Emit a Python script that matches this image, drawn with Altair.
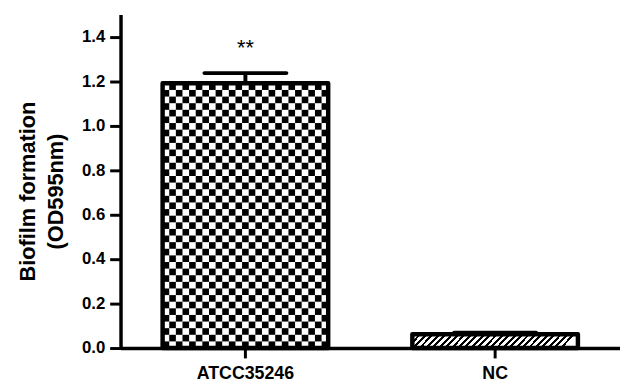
import altair as alt
import pandas as pd

categories = ["ATCC35246", "NC"]
means = [1.19, 0.062]
errors = [0.046, 0.007]
stars = ["**", ""]
y_ticks = [0.0, 0.2, 0.4, 0.6, 0.8, 1.0, 1.2, 1.4]
y_title = ["Biofilm formation", "(OD595nm)"]

df = pd.DataFrame({"category": categories, "mean": means, "err": errors, "star": stars})
df["upper"] = df["mean"] + df["err"]

# checkerboard fill cells for the first bar (pattern only)
n_cols, n_rows = 25, 40
cells = []
m = means[0]
for r in range(n_rows):
    for c in range(n_cols):
        if (r + c) % 2 == 0:
            cells.append({"category": categories[0], "col": c,
                          "y0": m * r / n_rows, "y1": m * (r + 1) / n_rows})
cells_df = pd.DataFrame(cells)

# diagonal hatch as a striped gradient for the second bar
periods = 26
stops = []
for k in range(periods):
    a = k / periods
    b = (k + 0.45) / periods
    e = (k + 1) / periods
    stops += [alt.GradientStop(offset=a, color="black"),
              alt.GradientStop(offset=b, color="black"),
              alt.GradientStop(offset=b, color="white"),
              alt.GradientStop(offset=e, color="white")]
hatch = alt.LinearGradient(gradient="linear", stops=stops, x1=0, y1=0, x2=1, y2=0.081)

xscale = alt.Scale(domain=categories, paddingInner=0.337, paddingOuter=0.1685)
yscale = alt.Scale(domain=[0, 1.5], nice=False)


def X():
    return alt.X("category:N", scale=xscale, title=None, sort=categories)


base = alt.Chart(df)

bar_white = base.transform_filter(alt.datum.category == categories[0]).mark_bar(
    color="white").encode(x=X(), y=alt.Y("mean:Q", scale=yscale, title=y_title))
bar_hatch = base.transform_filter(alt.datum.category == categories[1]).mark_bar(
    color=hatch).encode(x=X(), y=alt.Y("mean:Q", scale=yscale, title=y_title))

checker = alt.Chart(cells_df).mark_bar(color="black").encode(
    x=X(),
    xOffset=alt.XOffset("col:O", scale=alt.Scale(paddingInner=0, paddingOuter=0)),
    y=alt.Y("y0:Q", scale=yscale, title=y_title),
    y2="y1:Q",
)

outline = base.mark_bar(fillOpacity=0, stroke="black", strokeWidth=4.5,
                        strokeJoin="round").encode(
    x=X(), y=alt.Y("mean:Q", scale=yscale, title=y_title))

err_rule = base.mark_rule(color="black", strokeWidth=4, opacity=1).encode(
    x=X(), y=alt.Y("mean:Q", scale=yscale, title=y_title), y2="upper:Q")
err_cap = base.mark_tick(orient="horizontal", size=87, thickness=4,
                         color="black", opacity=1, cornerRadius=2).encode(
    x=X(), y=alt.Y("upper:Q", scale=yscale, title=y_title))

star_text = base.mark_text(fontSize=22, font="Liberation Sans", dy=-18,
                           baseline="alphabetic", color="black").encode(
    x=X(), y=alt.Y("upper:Q", scale=yscale, title=y_title), text="star:N")

chart = alt.layer(bar_white, bar_hatch, checker, outline, err_rule, err_cap,
                  star_text).properties(
    width=506, height=338,
    autosize=alt.AutoSizeParams(type="none"),
    padding={"left": 114, "top": 4, "right": 0, "bottom": 37},
).configure_view(stroke=None).configure_axis(
    grid=False, domainColor="black", domainWidth=3.5, tickColor="black",
    tickWidth=3, labelFont="Liberation Sans", labelFontWeight="bold",
    labelColor="black", titleFont="Liberation Sans", titleColor="black",
).configure_axisX(
    labelAngle=0, labelFontSize=18, tickSize=10, labelPadding=7,
).configure_axisY(
    labelFontSize=17, tickSize=11, labelPadding=5, values=y_ticks, format=".1f",
    titleFontSize=22, titleFontWeight="bold", titleLineHeight=28,
    titleAngle=-90, titleAlign="center", titleBaseline="alphabetic",
    titleX=-87, titleY=179,
)

chart.save("out.html", embed_options={"renderer": "svg", "actions": False})
